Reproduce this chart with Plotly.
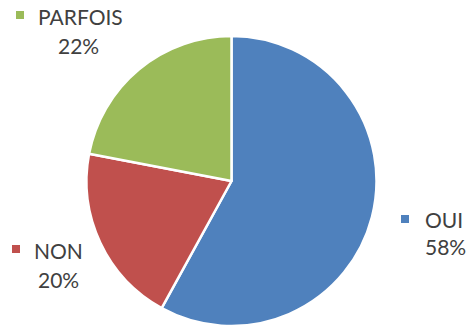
import plotly.graph_objects as go

# Survey answers and their shares (%)
categories = ["OUI", "NON", "PARFOIS"]
shares = [58, 20, 22]
colors = ["#4F81BD", "#C0504D", "#9BBB59"]

W, H = 472, 328
FONT = "Lato"
TEXT_COLOR = "#404040"

fig = go.Figure(
    go.Pie(
        labels=categories,
        values=shares,
        sort=False,
        direction="clockwise",
        rotation=0,
        textinfo="none",
        hoverinfo="label+percent",
        marker=dict(colors=colors, line=dict(color="white", width=2.5)),
        domain=dict(x=[86 / W, 377 / W], y=[2 / H, 1 - 36 / H]),
        showlegend=False,
    )
)

# Data-label placement (pixels from top-left): key square, name line, percent line
label_pos = {
    "OUI": dict(key=(405, 219), name=(444, 219), pct=(445, 246)),
    "NON": dict(key=(16, 249), name=(58, 250), pct=(58, 279)),
    "PARFOIS": dict(key=(20, 15), name=(80, 16), pct=(78, 45)),
}

annotations = []
shapes = []
for cat, val, col in zip(categories, shares, colors):
    p = label_pos[cat]
    kx, ky = p["key"]
    shapes.append(dict(
        type="rect", xref="paper", yref="paper",
        x0=(kx - 4) / W, x1=(kx + 4) / W,
        y0=1 - (ky + 4) / H, y1=1 - (ky - 4) / H,
        fillcolor=col, line=dict(width=0),
    ))
    for key, txt in (("name", cat), ("pct", f"{val}%")):
        x, y = p[key]
        annotations.append(dict(
            text=txt, x=x / W, y=1 - y / H, xref="paper", yref="paper",
            xanchor="center", yanchor="middle", showarrow=False,
            font=dict(family=FONT, size=21, color=TEXT_COLOR),
        ))

fig.update_layout(
    width=W, height=H,
    margin=dict(l=0, r=0, t=0, b=0),
    paper_bgcolor="white", plot_bgcolor="white",
    annotations=annotations, shapes=shapes,
)

fig.write_html("out.html")
